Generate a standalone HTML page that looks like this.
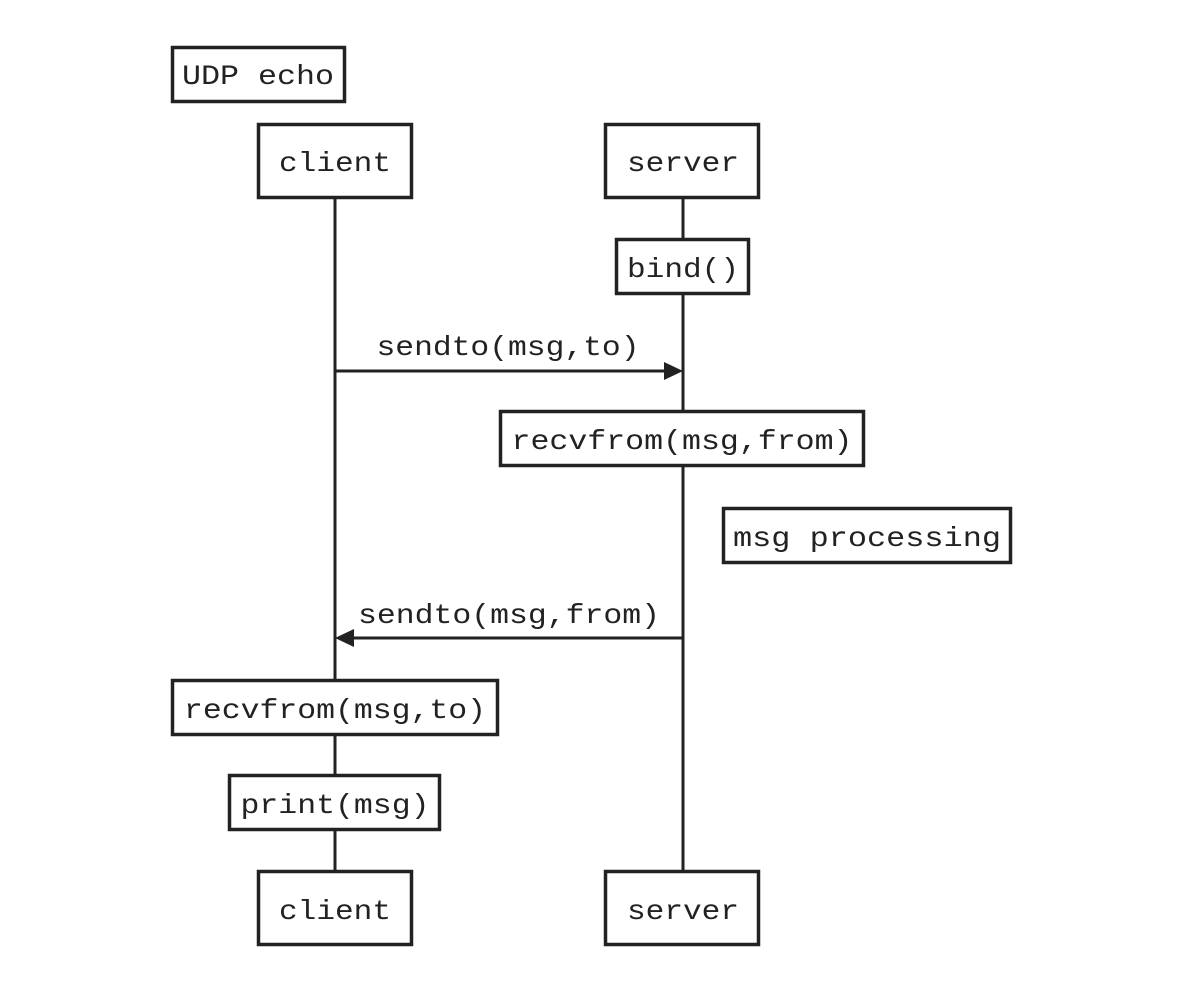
<!DOCTYPE html>
<html><head><meta charset="utf-8"><style>
html,body{margin:0;padding:0;background:#fff;}
svg{display:block}
text{font-family:"Liberation Mono","DejaVu Sans Mono",monospace;font-size:28px;fill:#222;}
</style></head><body>
<svg width="1178" height="1002" viewBox="0 0 1178 1002" xmlns="http://www.w3.org/2000/svg">
<g stroke="#222" stroke-width="3" fill="none">
<line x1="335" y1="199" x2="335" y2="870"/>
<line x1="683" y1="199" x2="683" y2="870"/>
<line x1="335" y1="371" x2="666" y2="371"/>
<line x1="352" y1="638" x2="683" y2="638"/>
</g>
<polygon points="683,371 664,362 664,380" fill="#222"/>
<polygon points="335,638 354,629 354,647" fill="#222"/>
<g stroke="#222" stroke-width="3.5" fill="#fff">
<rect x="172.5" y="47.5" width="172" height="54"/>
<rect x="258.5" y="124.5" width="153" height="73"/>
<rect x="605.5" y="124.5" width="153" height="73"/>
<rect x="616.5" y="239.5" width="132" height="54"/>
<rect x="500.5" y="411.5" width="363" height="54"/>
<rect x="723.5" y="508.5" width="287" height="54"/>
<rect x="172.5" y="680.5" width="325" height="54"/>
<rect x="229.5" y="775.5" width="210" height="54"/>
<rect x="258.5" y="871.5" width="153" height="73"/>
<rect x="605.5" y="871.5" width="153" height="73"/>
</g>
<g text-anchor="middle">
<text x="258" y="84" textLength="152" lengthAdjust="spacingAndGlyphs">UDP echo</text>
<text x="335" y="171" textLength="112" lengthAdjust="spacingAndGlyphs">client</text>
<text x="683" y="171" textLength="112" lengthAdjust="spacingAndGlyphs">server</text>
<text x="683" y="277" textLength="112" lengthAdjust="spacingAndGlyphs">bind()</text>
<text x="508" y="355" textLength="263" lengthAdjust="spacingAndGlyphs">sendto(msg,to)</text>
<text x="682" y="449" textLength="341" lengthAdjust="spacingAndGlyphs">recvfrom(msg,from)</text>
<text x="867" y="546" textLength="268" lengthAdjust="spacingAndGlyphs">msg processing</text>
<text x="509" y="623" textLength="302" lengthAdjust="spacingAndGlyphs">sendto(msg,from)</text>
<text x="335" y="718" textLength="302" lengthAdjust="spacingAndGlyphs">recvfrom(msg,to)</text>
<text x="335" y="813" textLength="189" lengthAdjust="spacingAndGlyphs">print(msg)</text>
<text x="335" y="919" textLength="112" lengthAdjust="spacingAndGlyphs">client</text>
<text x="683" y="919" textLength="112" lengthAdjust="spacingAndGlyphs">server</text>
</g>
</svg>
</body></html>
